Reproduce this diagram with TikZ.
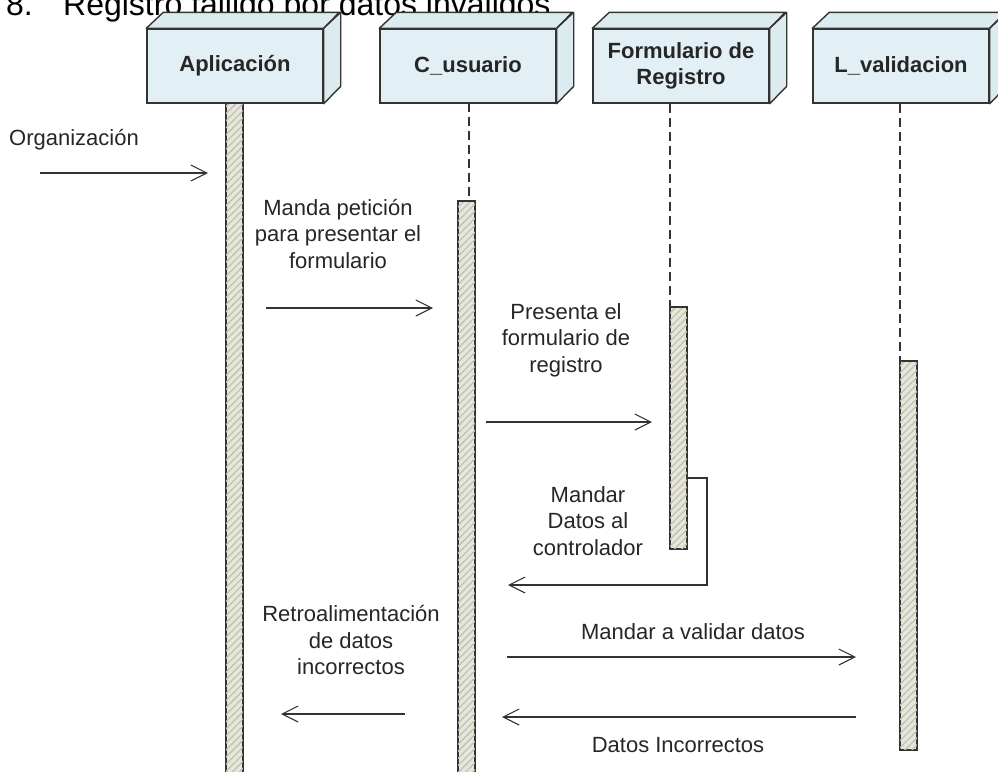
\documentclass[tikz,border=0pt]{standalone}
\usepackage{fontspec}
\setmainfont{Liberation Sans}
\usetikzlibrary{arrows.meta,patterns.meta}
\definecolor{boxfill}{HTML}{E2F0F5}
\definecolor{boxside}{HTML}{DCEBF0}
\definecolor{barfill}{HTML}{E6E6DA}
\definecolor{barhatch}{HTML}{C2C2B2}
\definecolor{ink}{HTML}{333333}
\tikzset{
  lifebox/.style={draw=ink, line width=1.4pt, fill=boxfill, minimum width=176pt, minimum height=74pt, inner sep=0pt, align=center, font=\fontsize{22}{26}\selectfont\bfseries, text=black!85},
  face/.style={draw=ink, line width=1.4pt, fill=boxside, line join=round},
  actbar/.style={draw=ink, line width=1.2pt, fill=barfill, minimum width=17pt, inner sep=0pt, anchor=north},
  hatch/.style={pattern={Lines[angle=45,distance=5pt,line width=1.3pt]}, pattern color=barhatch},
  lifeline/.style={draw=ink, line width=1.1pt, dash pattern=on 9pt off 5pt},
  msg/.style={draw=ink, line width=1.2pt, -{Straight Barb[length=16pt,width=16pt,line width=1.1pt]}},
  lbl/.style={align=center, font=\fontsize{22}{26.5}\selectfont, text=black!85, inner sep=0pt},
}
\begin{document}
\begin{tikzpicture}[x=1pt,y=-1pt]
\useasboundingbox (0,0) rectangle (998,771);
\begin{scope}
\clip (0,0) rectangle (998,771);
% title
\node[anchor=base west, inner sep=0pt, font=\fontsize{32}{36}\selectfont] (num) at (6,16) {8.};
\node[anchor=base west, inner sep=0pt, font=\fontsize{32}{36}\selectfont] (title) at (63,16) {Registro fallido por datos inválidos};

% lifeline boxes
\foreach \n/\x/\t in {app/235/{Aplicación}, cus/468/{C\_usuario}, form/681/{Formulario de\\Registro}, val/901/{L\_validacion}}{
  \node[lifebox] (\n) at (\x,66) {\t};
  \filldraw[face] (\n.north west) -- ++(17,-16) -- ++(176,0) -- (\n.north east) -- cycle;
  \filldraw[face] (\n.north east) -- ++(17,-16) -- ++(0,74) -- (\n.south east) -- cycle;
}

% dashed lifelines
\coordinate (cusL) at (469,201);
\coordinate (formL) at (670,307);
\coordinate (valL) at (900,361);
\draw[lifeline] (469,103) -- (cusL);
\draw[lifeline] (670,104) -- (formL);
\draw[lifeline] (900,104) -- (valL);

% activation bars
\node[actbar, minimum height=680pt] (appbar) at (234.5,103) {};
\fill[hatch] (appbar.north west) rectangle (appbar.south east);
\node[actbar, minimum height=580pt] (cusbar) at (466.5,201) {};
\fill[hatch] (cusbar.north west) rectangle (cusbar.south east);
\node[actbar, minimum height=241pt] (formbar) at (678.5,307) {};
\fill[hatch] (formbar.north west) rectangle (formbar.south east);
\node[actbar, minimum height=388pt] (valbar) at (908.5,361) {};
\fill[hatch] (valbar.north west) rectangle (valbar.south east);
\draw[ink, line width=1.2pt] (appbar.north west) rectangle (appbar.south east);
\draw[ink, line width=1.2pt] (cusbar.north west) rectangle (cusbar.south east);
\draw[ink, line width=1.2pt] (formbar.north west) rectangle (formbar.south east);
\draw[ink, line width=1.2pt] (valbar.north west) rectangle (valbar.south east);

% message 0
\node[lbl, anchor=west] (l0) at (9,140) {Organización};
\coordinate (m0a) at (40,173); \coordinate (m0b) at (208,173);
\draw[msg] (m0a) -- (m0b);

% message 1
\node[lbl] (l1) at (338,234) {Manda petición\\para presentar el\\formulario};
\coordinate (m1a) at (266,308); \coordinate (m1b) at (433,308);
\draw[msg] (m1a) -- (m1b);

% message 2
\node[lbl] (l2) at (566,340) {Presenta el\\formulario de\\registro};
\coordinate (m2a) at (486,422); \coordinate (m2b) at (652,422);
\draw[msg] (m2a) -- (m2b);

% message 3 (self)
\node[lbl] (l3) at (588,521) {Mandar\\Datos al\\controlador};
\coordinate (m3a) at (687,478); \coordinate (m3c) at (707,585); \coordinate (m3b) at (508,585);
\draw[msg] (m3a) -- (m3a -| m3c) -- (m3c) -- (m3b);

% message 4
\node[lbl] (l4) at (693,632) {Mandar a validar datos};
\coordinate (m4a) at (507,657); \coordinate (m4b) at (856,657);
\draw[msg] (m4a) -- (m4b);

% message 5
\node[lbl] (l5) at (678,745) {Datos Incorrectos};
\coordinate (m5a) at (856,717); \coordinate (m5b) at (502,717);
\draw[msg] (m5a) -- (m5b);

% message 6
\node[lbl] (l6) at (351,640) {Retroalimentación\\de datos\\incorrectos};
\coordinate (m6a) at (405,714); \coordinate (m6b) at (281,714);
\draw[msg] (m6a) -- (m6b);
\end{scope}
\end{tikzpicture}
\end{document}
